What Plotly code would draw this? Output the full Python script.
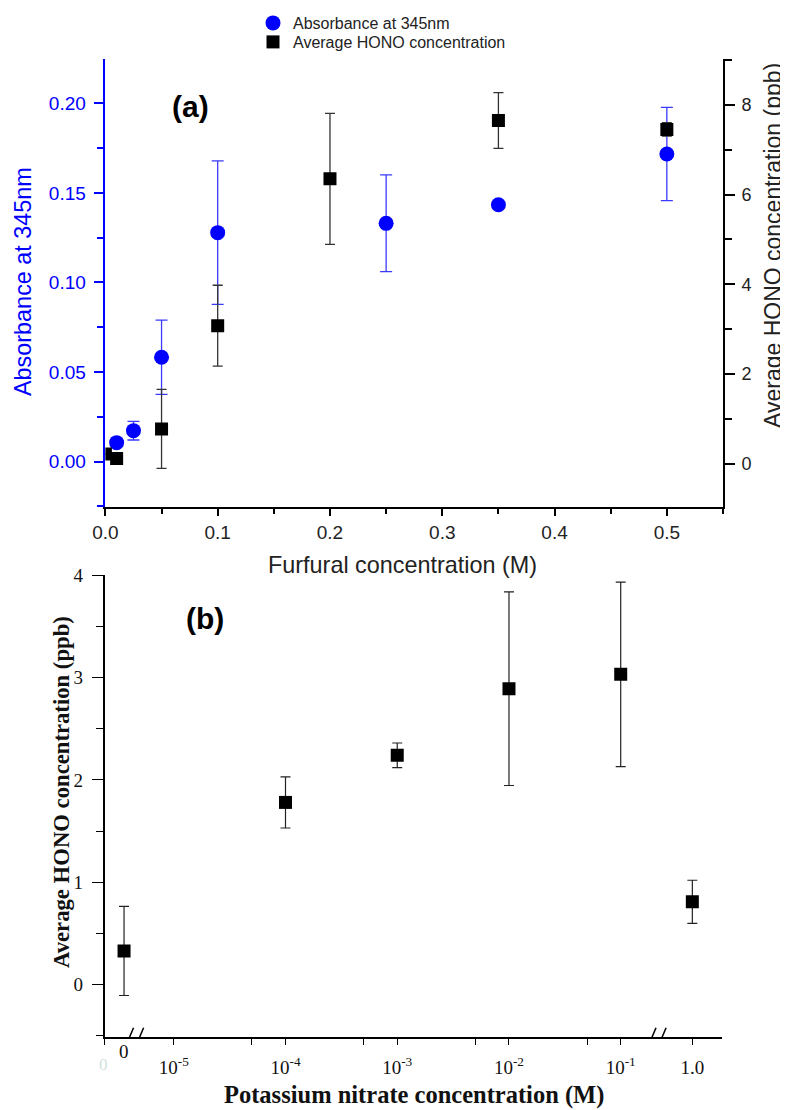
import math
import plotly.graph_objects as go

# ---------------- data ----------------
# Panel (a): furfural series
furfural_abs_x = [0.01, 0.025, 0.05, 0.10, 0.25, 0.35, 0.50]
absorbance_345 = [0.0106, 0.0173, 0.0583, 0.1278, 0.1330, 0.1434, 0.1717]
absorbance_err = [0.0, 0.0052, 0.0207, 0.0400, 0.0270, 0.0010, 0.0260]

furfural_hono_x = [0.0, 0.01, 0.05, 0.10, 0.20, 0.35, 0.50]
hono_a = [0.22, 0.12, 0.78, 3.08, 6.35, 7.65, 7.45]
hono_a_err = [0.0, 0.0, 0.88, 0.90, 1.46, 0.62, 0.15]

# Panel (b): potassium nitrate series
kno3_conc = [0.0, 1e-4, 1e-3, 1e-2, 1e-1, 1.0]
hono_b = [0.33, 1.78, 2.24, 2.89, 3.03, 0.81]
hono_b_err = [0.435, 0.25, 0.12, 0.945, 0.90, 0.21]

kno3_tick_conc = [1e-5, 1e-4, 1e-3, 1e-2, 1e-1, 1.0]
kno3_tick_text = ["10<sup>-5</sup>", "10<sup>-4</sup>", "10<sup>-3</sup>",
                  "10<sup>-2</sup>", "10<sup>-1</sup>", "1.0"]
kno3_minor_conc = [5e-5, 5e-4, 5e-3, 5e-2]

# broken-axis layout for panel (b)
ZERO_POS = -5.445   # where the "0" concentration sits
ONE_POS = -0.359    # where the 1.0 M concentration sits
XB_RANGE = [-5.619, -0.098]
BREAK_LEFT = -5.345
BREAK_RIGHT = -0.669


def kno3_pos(c):
    if c == 0:
        return ZERO_POS
    if c >= 1.0:
        return ONE_POS
    return math.log10(c)


# page body has an 8px margin; the figure fills the rest of the 788x1110 window
PAGE_OFF = 8
W, H = 788 - PAGE_OFF, 1110 - PAGE_OFF


def px(x):
    return (x - PAGE_OFF) / W


def py(y):
    return 1 - (y - PAGE_OFF) / H


BLUE = "#0000FF"
SANS = "Liberation Sans, Arial, sans-serif"
SERIF = "Liberation Serif, Times New Roman, serif"

fig = go.Figure()

fig.add_trace(go.Scatter(
    x=furfural_abs_x, y=absorbance_345, mode="markers",
    name="Absorbance at 345nm", legend="legend",
    marker=dict(symbol="circle", size=15, color=BLUE),
    error_y=dict(type="data", array=absorbance_err, color="#3a3aff",
                 thickness=1.3, width=6),
    xaxis="x", yaxis="y",
))
fig.add_trace(go.Scatter(
    x=furfural_hono_x, y=hono_a, mode="markers",
    name="Average HONO concentration", legend="legend2",
    marker=dict(symbol="square", size=13, color="black"),
    error_y=dict(type="data", array=hono_a_err, color="#333333",
                 thickness=1.3, width=5),
    xaxis="x", yaxis="y2",
))
fig.add_trace(go.Scatter(
    x=[kno3_pos(c) for c in kno3_conc], y=hono_b, mode="markers",
    showlegend=False,
    marker=dict(symbol="square", size=13, color="black"),
    error_y=dict(type="data", array=hono_b_err, color="#222222",
                 thickness=1.2, width=5),
    xaxis="x2", yaxis="y3",
))

axis_common = dict(showgrid=False, zeroline=False, showline=True,
                   ticks="outside", linewidth=1.6, automargin=False)
legend_common = dict(xanchor="left", yanchor="top", bgcolor="rgba(0,0,0,0)",
                     font=dict(family=SANS, size=16, color="#222"))

fig.update_layout(
    width=W, height=H,
    margin=dict(l=0, r=0, t=0, b=0, autoexpand=False),
    paper_bgcolor="white", plot_bgcolor="white",
    showlegend=True,
    legend=dict(**legend_common, x=px(253), y=py(6)),
    legend2=dict(**legend_common, x=px(253), y=py(25)),
    xaxis=dict(**axis_common, domain=[px(105.4), px(723)], anchor="y",
               range=[0, 0.55], dtick=0.1, tick0=0, tickformat=".1f",
               linecolor="black", tickcolor="black", ticklen=7, tickwidth=1.6,
               ticklabelstandoff=0,
               tickfont=dict(family=SANS, size=19, color="#222"),
               minor=dict(ticks="outside", dtick=0.05, ticklen=5,
                          tickcolor="black", tickwidth=1.6)),
    yaxis=dict(**axis_common, domain=[py(507), py(59)], anchor="x",
               range=[-0.0253, 0.2247], dtick=0.05, tick0=0,
               tickformat=".2f", linecolor=BLUE, tickcolor=BLUE,
               ticklen=10, tickwidth=1.6, ticklabelstandoff=4,
               tickfont=dict(family=SANS, size=19, color=BLUE),
               minor=dict(ticks="outside", dtick=0.025, ticklen=7,
                          tickcolor=BLUE, tickwidth=1.6)),
    yaxis2=dict(**axis_common, overlaying="y", side="right", anchor="x",
                range=[-0.96, 9.02], dtick=2, tick0=0,
                linecolor="black", tickcolor="black", ticklen=10,
                tickwidth=1.6, ticklabelstandoff=3,
                tickfont=dict(family=SANS, size=18, color="#222"),
                minor=dict(ticks="outside", dtick=1, ticklen=7,
                           tickcolor="black", tickwidth=1.6)),
    xaxis2=dict(**axis_common, domain=[px(104.6), px(721.5)], anchor="y3",
                range=XB_RANGE, tickmode="array",
                tickvals=[kno3_pos(c) for c in kno3_tick_conc],
                ticktext=kno3_tick_text,
                linecolor="black", tickcolor="black", ticklen=6,
                tickwidth=1.4, ticklabelstandoff=6,
                tickfont=dict(family=SERIF, size=19, color="#111"),
                minor=dict(ticks="outside", tickmode="array",
                           tickvals=[XB_RANGE[0]] + [kno3_pos(c) for c in kno3_minor_conc],
                           ticklen=6, tickcolor="black", tickwidth=1.4)),
    yaxis3=dict(**axis_common, domain=[py(1037), py(575)], anchor="x2",
                range=[-0.51, 4.0], dtick=1, tick0=0,
                linecolor="black", tickcolor="black", ticklen=11,
                tickwidth=1.4, ticklabelstandoff=5,
                tickfont=dict(family=SERIF, size=19, color="#111"),
                minor=dict(ticks="outside", dtick=0.5, ticklen=7,
                           tickcolor="black", tickwidth=1.4)),
)

annotations = [
    dict(text="<b>(a)</b>", x=px(190), y=py(106), font=dict(family=SANS, size=30, color="black")),
    dict(text="<b>(b)</b>", x=px(205), y=py(618), font=dict(family=SANS, size=30, color="black")),
    dict(text="Absorbance at 345nm", x=px(23), y=py(282), textangle=-90,
         font=dict(family=SANS, size=23.4, color=BLUE)),
    dict(text="Average HONO concentration (ppb)", x=px(773), y=py(246), textangle=-90,
         font=dict(family=SANS, size=23, color="#222")),
    dict(text="Furfural concentration (M)", x=px(402), y=py(565),
         font=dict(family=SANS, size=23.4, color="#222")),
    dict(text="<b>Average HONO concentration (ppb)</b>", x=px(61), y=py(792), textangle=-90,
         font=dict(family=SERIF, size=22.7, color="#111")),
    dict(text="<b>Potassium nitrate concentration (M)</b>", x=px(414), y=py(1095),
         font=dict(family=SERIF, size=24.5, color="#111")),
    dict(text="0", x=px(103), y=py(1064), font=dict(family=SERIF, size=17, color="#cfe3dc")),
]
for a in annotations:
    a.update(xref="paper", yref="paper", showarrow=False, xanchor="center", yanchor="middle")
    fig.add_annotation(**a)

# "0" label at the zero position of the broken axis
fig.add_annotation(text="0", x=ZERO_POS, xref="x2", y=py(1064), yref="paper",
                   showarrow=False, font=dict(family=SERIF, size=19, color="#111"))

# axis-break marks
shapes = []
for bp in (BREAK_LEFT, BREAK_RIGHT):
    shapes.append(dict(type="rect", xref="x2", yref="y3", x0=bp - 0.03, x1=bp + 0.05,
                       y0=-0.53, y1=-0.49, fillcolor="white", line=dict(width=0)))
    for off in (-0.05, 0.04):
        shapes.append(dict(type="line", xref="x2", yref="y3",
                           x0=bp + off - 0.035, x1=bp + off + 0.035,
                           y0=-0.60, y1=-0.42, line=dict(color="black", width=1.5)))
for s in shapes:
    fig.add_shape(**s)

fig.write_html("out.html")
